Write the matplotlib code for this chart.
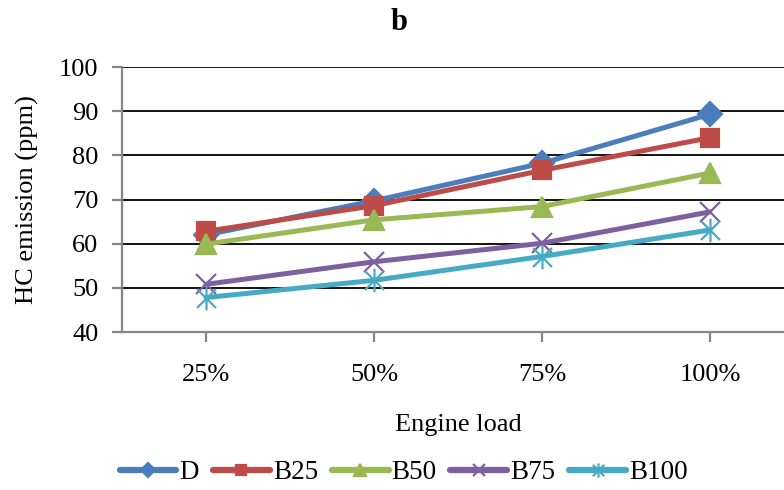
import matplotlib
matplotlib.use("Agg")
import matplotlib.pyplot as plt
from matplotlib.path import Path

loads = ["25%", "50%", "75%", "100%"]
d = [62.0, 69.7, 78.2, 89.3]
b25 = [62.8, 68.6, 76.6, 84.0]
b50 = [59.9, 65.4, 68.4, 76.0]
b75 = [50.8, 55.9, 60.1, 67.2]
b100 = [47.8, 51.7, 57.1, 63.1]

# Excel style star: an x with a vertical bar through it
star = Path([(-1, -1), (1, 1), (-1, 1), (1, -1), (0, -1.25), (0, 1.25)],
            [Path.MOVETO, Path.LINETO, Path.MOVETO, Path.LINETO,
             Path.MOVETO, Path.LINETO])

series = [
    ("D", d, "#4A7EBB", "D", 12),
    ("B25", b25, "#BE4B48", "s", 13),
    ("B50", b50, "#98B954", "^", 14),
    ("B75", b75, "#7D60A0", "x", 14),
    ("B100", b100, "#46AAC5", star, 17),
]

plt.rcParams["font.family"] = "Liberation Serif"

fig = plt.figure(figsize=(7.84, 4.9), dpi=100)
ax = fig.add_axes([0.1556, 0.3224, 0.857, 0.5408])

x = range(len(loads))
for name, vals, color, marker, ms in series:
    ax.plot(x, vals, color=color, lw=3.6, marker=marker, markersize=ms,
            markeredgewidth=1.6, label=name, solid_capstyle="round")

ax.set_xlim(-0.5, 3.5)
ax.set_ylim(40, 100)
ax.set_yticks(range(40, 101, 10))
ax.set_xticks(list(x))
ax.set_xticklabels(loads)
ax.yaxis.grid(True, color="black", lw=1.3)
ax.set_axisbelow(True)

for s in ["top", "right"]:
    ax.spines[s].set_visible(False)
for s in ["left", "bottom"]:
    ax.spines[s].set_color("#868686")
    ax.spines[s].set_linewidth(1.6)
ax.tick_params(axis="both", direction="out", color="#868686",
               width=1.6, length=7, labelsize=19)
ax.tick_params(axis="y", pad=10)
ax.tick_params(axis="x", pad=16)

ax.set_ylabel("HC emission (ppm)", fontsize=19, labelpad=14)
ax.set_xlabel("Engine load", fontsize=19, labelpad=20)
fig.text(0.509, 0.955, "b", fontsize=22, fontweight="bold",
         ha="center", va="center")

leg = fig.legend(loc="lower center", bbox_to_anchor=(0.515, -0.04), ncol=5,
                 frameon=False, fontsize=19.5, handlelength=2.1,
                 columnspacing=0.5, handletextpad=0.12, markerscale=0.6)
for line in leg.get_lines():
    line.set_linewidth(4.5)

fig.savefig("out.png", dpi=100)
